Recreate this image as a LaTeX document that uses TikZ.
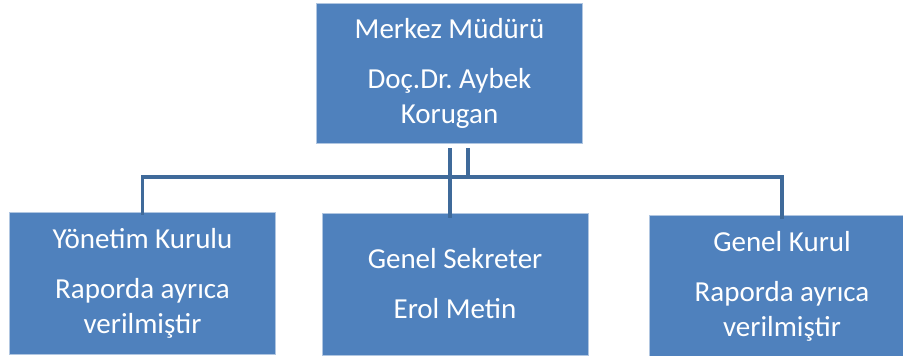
\documentclass[tikz,border=0pt]{standalone}
\usepackage{fontspec}
\setmainfont{Carlito}
\usepackage{xcolor}
\usetikzlibrary{positioning}

\definecolor{boxblue}{HTML}{4F81BD}
\definecolor{linkblue}{HTML}{3F6A9A}

\begin{document}
\frenchspacing
\begin{tikzpicture}[
            x=1pt,y=1pt,
            unit/.style={
                    draw=white!55!boxblue,
                    line width=0.8pt,
                    fill=boxblue,
                    text=white,
                    align=center,
                    inner sep=0pt,
                    font=\fontsize{29}{35}\selectfont,
                    minimum width=266pt
                },
            link/.style={
                    draw=linkblue,
                    line width=3.5pt
                }
        ]
        \useasboundingbox (0,0) rectangle (903,-356);
        \clip (0,0) rectangle (903,-356);

        \node[unit,minimum height=140pt] at (449.5,-73)
        (merkez) {Merkez Müdürü\\[15pt]Doç.Dr. Aybek\\Korugan};
        \node[unit,minimum height=142pt] at (142.5,-283)
        (yonetim) {Yönetim Kurulu\\[15pt]Raporda ayrıca\\verilmiştir};
        \node[unit,minimum height=142pt] at (455,-284)
        (sekreter) {Genel Sekreter\\[15pt]Erol Metin};
        \node[unit,minimum height=142pt] at (782,-286)
        (kurul) {Genel Kurul\\[15pt]Raporda ayrıca\\verilmiştir};

        % hat: ortadaki kol ve iki yan kol
        \coordinate (bar) at (0,-177);
        \draw[link] ([xshift=0.5pt,yshift=-5pt]merkez.south) -- ([xshift=0.5pt,yshift=-5pt]merkez.south |- sekreter.north);
        \draw[link] ([xshift=18.5pt,yshift=-5pt]merkez.south) -- ([xshift=18.5pt]merkez.south |- bar);
        \draw[link] ([yshift=-3pt]yonetim.north) -- (yonetim.north |- bar) -- (kurul.north |- bar) -- ([yshift=-6pt]kurul.north |- sekreter.north);
    \end{tikzpicture}
\end{document}
